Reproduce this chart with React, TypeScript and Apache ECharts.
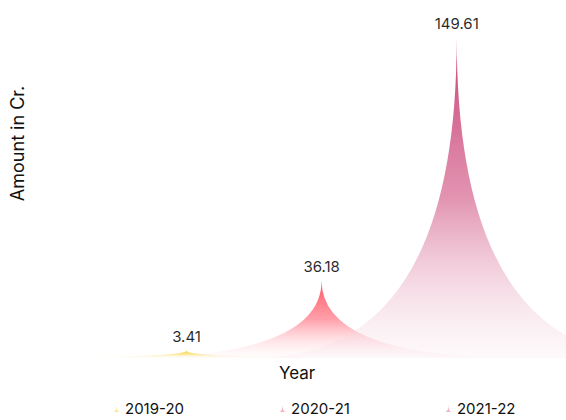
import React, { useEffect, useRef } from "react";
import * as echarts from "echarts";

const years = ["2019-20", "2020-21", "2021-22"];
const amounts = [3.41, 36.18, 149.61];
const topColors = ["rgba(245,205,40,1)", "rgba(255,68,86,1)", "rgba(196,50,106,1)"];
const midColors = ["rgba(250,222,110,0.75)", "rgba(255,125,138,0.8)", "rgba(218,118,155,0.85)"];
const bottomColors = ["rgba(255,248,225,0.05)", "rgba(255,238,240,0.15)", "rgba(248,230,238,0.25)"];
const legendColors = ["rgba(250,228,150,1)", "rgba(250,170,180,1)", "rgba(235,170,195,1)"];

const spike = "path://M0,10 L10,10 Q5,10 5,0 Q5,10 0,10 z";

export default function App() {
  const ref = useRef<HTMLDivElement>(null);
  useEffect(() => {
    if (!ref.current) return;
    const chart = echarts.init(ref.current, null, { renderer: "svg" });
    const series = years.map((y, i) => ({
      name: y,
      type: "pictorialBar",
      symbol: spike,
      barCategoryGap: "-200%",
      barGap: "-100%",
      z: 10 + i,
      data: amounts.map((v, j) => (j === i ? v : "-")),
      label: {
        show: true,
        position: "top",
        distance: 7,
        color: "#111",
        fontSize: 15,
        fontFamily: "Inter",
      },
      itemStyle: {
        opacity: 0.92,
        color: new echarts.graphic.LinearGradient(0, 0, 0, 1, [
          { offset: 0, color: topColors[i] },
          { offset: 0.5, color: midColors[i] },
          { offset: 1, color: bottomColors[i] },
        ]),
      },
    }));
    chart.setOption({
      animation: false,
      textStyle: { fontFamily: "Inter" },
      legend: {
        data: years.map((y, i) => ({ name: y, itemStyle: { color: legendColors[i] } })),
        top: 401,
        left: 113,
        padding: 0,
        icon: spike,
        itemWidth: 7,
        itemHeight: 7,
        itemGap: 95,
        textStyle: { color: "#111", fontSize: 15, fontFamily: "Inter" },
      },
      grid: { left: 114.75, right: 41.75, top: 37, bottom: 62 },
      xAxis: {
        type: "category",
        data: years,
        name: "Year",
        nameLocation: "middle",
        nameGap: 6,
        nameTextStyle: { color: "#111", fontSize: 17, padding: [0, 49, 0, 0] },
        axisLine: { show: false },
        axisTick: { show: false },
        axisLabel: { show: false },
      },
      yAxis: {
        type: "value",
        max: 150,
        name: "Amount in Cr.",
        nameLocation: "middle",
        nameRotate: 90,
        nameGap: 93,
        nameTextStyle: { color: "#111", fontSize: 18, padding: [0, 0, 0, 108] },
        axisLine: { show: false },
        axisTick: { show: false },
        axisLabel: { show: false },
        splitLine: { show: false },
      },
      series,
    });
    return () => chart.dispose();
  }, []);
  return (
    <div
      ref={ref}
      style={{ position: "absolute", left: 0, top: 0, width: 566, height: 420 }}
    />
  );
}
